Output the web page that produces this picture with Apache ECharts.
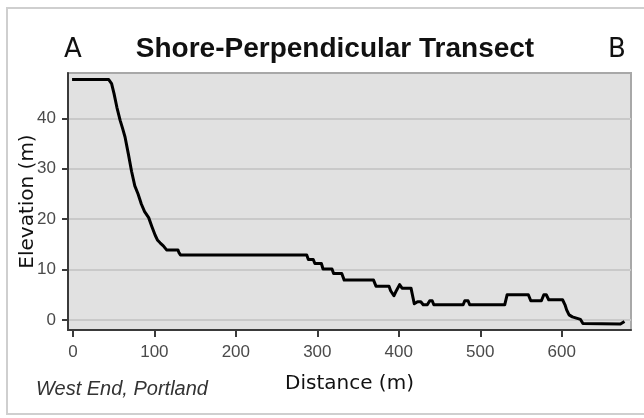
<!DOCTYPE html>
<html>
<head>
<meta charset="utf-8">
<title>Shore-Perpendicular Transect</title>
<script src="https://cdn.jsdelivr.net/npm/echarts@6/dist/echarts.min.js"></script>
<style>
  html, body { margin: 0; padding: 0; background: #ffffff; }
  #chart { width: 644px; height: 418px; }
</style>
</head>
<body>
<div id="chart"></div>
<script>
// transect profile (distance in m, elevation in m)
const distance = [
  -1, 44, 47.5, 50.5, 54, 58, 61, 64, 68, 72, 76, 80, 84, 88, 93, 97, 101,
  104, 107, 111, 113, 115, 129, 130, 132, 287, 289, 295, 297, 305, 307, 318,
  320, 330, 333, 369, 372, 388, 390, 392, 394, 397, 401, 404, 415, 419, 423,
  427, 430, 435, 438, 441, 443, 479, 481, 485, 487, 530, 533, 559, 562, 575,
  578, 581, 584, 601, 604, 606, 609, 613, 619, 623, 626, 628, 672, 677
];
const elevation = [
  47.7, 47.7, 46.9, 44.9, 42.2, 39.6, 38, 36.3, 33, 29.5, 26.6, 25, 23, 21.5,
  20.3, 18.5, 16.8, 15.8, 15.3, 14.7, 14.7, 13.9, 13.9, 13.4, 12.9, 12.9,
  12, 12, 11.2, 11.2, 10.1, 10.1, 9.2, 9.2, 7.9, 7.9, 6.7, 6.7, 5.8, 5.8, 4.8,
  5.8, 7.0, 6.3, 6.3, 3.2, 3.6, 3.6, 3.0, 3.0, 3.8, 3.8, 3.0, 3.0, 3.8, 3.8,
  3.0, 3.0, 5.0, 5.0, 3.8, 3.8, 5.0, 5.0, 4.0, 4.0, 3.0, 2.0, 1.0, 0.6, 0.3,
  0.1, -0.7, -0.8, -0.8, -0.3
];
const xTicks = [0, 100, 200, 300, 400, 500, 600];
const yTicks = [0, 10, 20, 30, 40];

const titleText = 'Shore-Perpendicular Transect';
const xName = 'Distance (m)';
const yName = 'Elevation (m)';
const placeNote = 'West End, Portland';

const profile = distance.map((d, i) => [d, elevation[i]]);

const chart = echarts.init(document.getElementById('chart'), null, { renderer: 'canvas' });

chart.setOption({
  animation: false,
  backgroundColor: '#ffffff',
  title: {
    text: titleText,
    left: 330,
    top: 30,
    textAlign: 'center',
    textStyle: {
      fontFamily: 'Liberation Sans',
      fontWeight: 'bold',
      fontSize: 28,
      color: '#111111'
    }
  },
  grid: {
    left: 68,
    right: 13,
    top: 73,
    bottom: 88,
    outerBoundsMode: 'none',
    show: true,
    backgroundColor: '#e1e1e1',
    borderColor: '#a8a8a8',
    borderWidth: 2
  },
  xAxis: {
    type: 'value',
    min: -6,
    max: 685,
    name: xName,
    nameLocation: 'middle',
    nameGap: 44,
    nameMoveOverlap: false,
    nameTextStyle: { fontFamily: 'DejaVu Sans', fontSize: 20, color: '#111111' },
    axisLine: { show: true, onZero: false, lineStyle: { color: '#3a3a3a', width: 2 } },
    axisTick: { show: true, length: 7, customValues: xTicks, lineStyle: { color: '#3a3a3a', width: 2 } },
    axisLabel: {
      customValues: xTicks,
      margin: 14,
      fontFamily: 'Liberation Sans',
      fontSize: 17,
      color: '#4a4a4a'
    },
    splitLine: { show: false }
  },
  yAxis: {
    type: 'value',
    min: -2,
    max: 49,
    name: yName,
    nameLocation: 'middle',
    nameGap: 30,
    nameMoveOverlap: false,
    nameTextStyle: { fontFamily: 'DejaVu Sans', fontSize: 20, color: '#111111' },
    axisLine: { show: true, onZero: false, lineStyle: { color: '#3a3a3a', width: 2 } },
    axisTick: { show: true, length: 6, customValues: yTicks, lineStyle: { color: '#3a3a3a', width: 2 } },
    axisLabel: {
      customValues: yTicks,
      margin: 12,
      fontFamily: 'Liberation Sans',
      fontSize: 17,
      color: '#4a4a4a'
    },
    splitLine: { show: true, lineStyle: { color: '#c9c9c9', width: 2 } }
  },
  graphic: [
    {
      type: 'rect',
      silent: true,
      shape: { x: 7, y: 8, width: 660, height: 406 },
      style: { fill: null, stroke: '#cfcfcf', lineWidth: 2 }
    },
    {
      type: 'text',
      left: 64,
      top: 37,
      style: { text: 'A', font: '26px "DejaVu Sans"', fill: '#111111' }
    },
    {
      type: 'text',
      left: 608,
      top: 37,
      style: { text: 'B', font: '26px "DejaVu Sans"', fill: '#111111' }
    },
    {
      type: 'text',
      left: 36,
      top: 379,
      style: { text: placeNote, font: 'italic 20px "Liberation Sans"', fill: '#333333' }
    }
  ],
  series: [
    {
      type: 'line',
      data: profile,
      showSymbol: false,
      symbol: 'none',
      smooth: false,
      lineStyle: { color: '#000000', width: 3, join: 'round' },
      clip: true
    }
  ]
});
</script>
</body>
</html>
